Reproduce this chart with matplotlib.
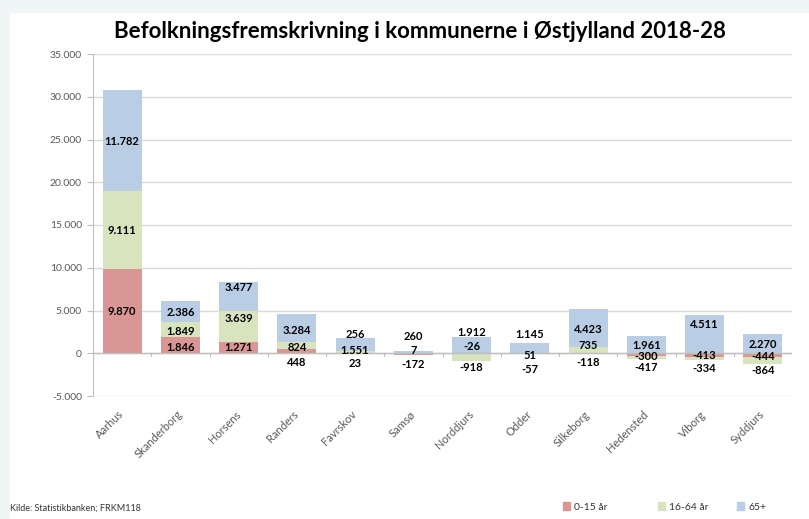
import numpy as np
import matplotlib as mpl
mpl.use('Agg')
import matplotlib.pyplot as plt
from matplotlib.patches import Rectangle, Patch
from matplotlib.ticker import FuncFormatter

# data
kommuner = ["Aarhus", "Skanderborg", "Horsens", "Randers", "Favrskov", "Samsø",
            "Norddjurs", "Odder", "Silkeborg", "Hedensted", "Viborg", "Syddjurs"]
age_0_15 = [9870, 1846, 1271, 448, 23, -172, -26, -57, -118, -300, -413, -444]
age_16_64 = [9111, 1849, 3639, 824, 256, 7, -918, 51, 735, -417, -334, -864]
age_65 = [11782, 2386, 3477, 3284, 1551, 260, 1912, 1145, 4423, 1961, 4511, 2270]
series_names = ["0-15 år", "16-64 år", "65+"]

# label heights (data units) - roughly where Excel put them
lab_0_15 = [4900, 700, 700, -1060, -1170, -1290, 820, -1880, -1060, -350, -230, -350]
lab_16_64 = [14300, 2600, 4100, 700, 2230, 350, -1640, -230, 940, -1640, -1760, -2000]
lab_65 = [24800, 4800, 7740, 2700, 350, 2000, 2460, 2230, 2810, 940, 3400, 1055]

colors = ["#D99694", "#D7E4BD", "#B9CDE5"]
grid_c = "#D9D9D9"
tick_c = "#595959"
plt.rcParams['font.family'] = ['Lato', 'DejaVu Sans']

def dk_fmt(v, pos=None):
    return f"{v:,.0f}".replace(",", ".")

fig = plt.figure(figsize=(8.09, 5.19), dpi=100)
fig.patch.set_facecolor("white")
# pale frame from the screenshot
fig.patches.append(Rectangle((0, 1 - 12/519), 1, 12/519, transform=fig.transFigure,
                             color="#F0F5F5", zorder=0))
fig.patches.append(Rectangle((0, 0), 9/809, 1, transform=fig.transFigure,
                             color="#F0F5F5", zorder=0))

ax = fig.add_axes([93/809, 1 - 396/519, (792 - 93)/809, (396 - 54)/519])
x = np.arange(len(kommuner))
w = 0.67

vals = np.array([age_0_15, age_16_64, age_65], dtype=float)
pos_base = np.zeros(len(kommuner))
neg_base = np.zeros(len(kommuner))
for i in range(3):
    v = vals[i]
    base = np.where(v >= 0, pos_base, neg_base)
    ax.bar(x, v, w, bottom=base, color=colors[i], label=series_names[i], zorder=3)
    pos_base = pos_base + np.where(v >= 0, v, 0)
    neg_base = neg_base + np.where(v < 0, v, 0)

for labs, v in zip([lab_0_15, lab_16_64, lab_65], vals):
    for xi, yi, val in zip(x, labs, v):
        ax.text(xi, yi, dk_fmt(val), ha="center", va="center", fontsize=8,
                fontweight="bold", color="black", zorder=5)

ax.set_ylim(-5000, 35000)
ax.set_xlim(-0.5, len(kommuner) - 0.5)
ax.set_yticks(np.arange(-5000, 35001, 5000))
ax.yaxis.set_major_formatter(FuncFormatter(dk_fmt))
ax.grid(axis="y", color=grid_c, lw=1, zorder=0)
ax.axhline(0, color="#BFBFBF", lw=1, zorder=4)
# boundary ticks on the zero line
for b in np.arange(0.5, len(kommuner), 1):
    ax.plot([b, b], [0, -350], color="#BFBFBF", lw=0.8, zorder=4)

for s in ["top", "right", "bottom"]:
    ax.spines[s].set_visible(False)
ax.spines["left"].set_color("#BFBFBF")
ax.tick_params(axis="y", length=4, color="#BFBFBF", labelsize=7.5, labelcolor=tick_c, pad=4)
ax.set_xticks(x)
ax.set_xticklabels(kommuner, rotation=45, ha="right", va="center", rotation_mode="anchor")
ax.tick_params(axis="x", length=0, labelsize=8, labelcolor=tick_c, pad=12)

fig.text(420/809, 1 - 31/519, "Befolkningsfremskrivning i kommunerne i Østjylland 2018-28",
         ha="center", va="center", fontsize=16, fontweight="bold")
fig.text(10/809, 1 - 508/519, "Kilde: Statistikbanken; FRKM118", ha="left", va="center",
         fontsize=6.5, color="#333333")

# legend entries placed one by one, like the Excel layout
for name, c, xl in zip(series_names, colors, [563, 658, 737]):
    leg = fig.legend(handles=[Patch(color=c, label=name)], loc="center left",
                     bbox_to_anchor=(xl/809, 1 - 507/519), frameon=False, fontsize=7.5,
                     handlelength=0.7, handleheight=0.7, handletextpad=0.4,
                     borderpad=0, borderaxespad=0)
    for t in leg.get_texts():
        t.set_color("#333333")

fig.savefig("out.png", dpi=100, facecolor=fig.get_facecolor())
